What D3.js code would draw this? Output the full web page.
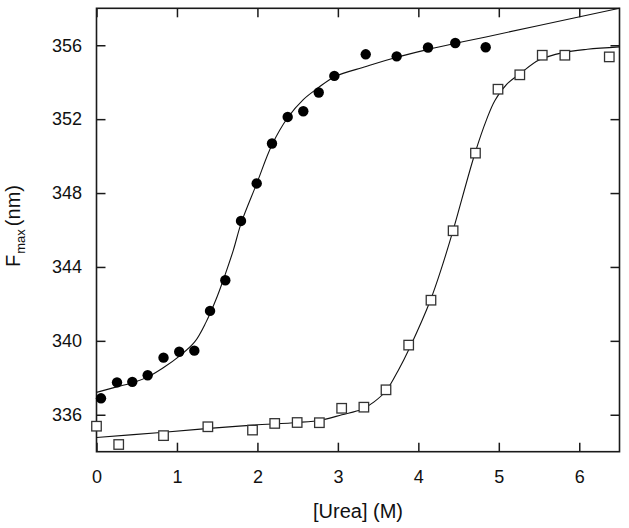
<!DOCTYPE html>
<html>
<head>
<meta charset="utf-8">
<script src="https://cdn.jsdelivr.net/npm/d3@7"></script>
<style>
  html, body { margin: 0; padding: 0; background: #fff; }
  svg { display: block; font-family: "Liberation Sans", Arial, Helvetica, sans-serif; }
</style>
</head>
<body>
<svg id="chart" width="629" height="528"></svg>
<script>
// ---- data ----
const xTicks = [0, 1, 2, 3, 4, 5, 6];
const yTicks = [336, 340, 344, 348, 352, 356];

// filled circles
const circleX = [0.056, 0.255, 0.445, 0.636, 0.833, 1.028, 1.216, 1.411, 1.601, 1.796, 1.991, 2.181, 2.376, 2.570, 2.762, 2.956, 3.346, 3.731, 4.120, 4.459, 4.837];
const circleY = [336.89, 337.75, 337.78, 338.14, 339.09, 339.41, 339.47, 341.62, 343.28, 346.49, 348.52, 350.68, 352.12, 352.43, 353.44, 354.34, 355.51, 355.40, 355.88, 356.12, 355.89];

// open squares
const squareX = [0.0, 0.276, 0.833, 1.384, 1.939, 2.215, 2.494, 2.770, 3.047, 3.323, 3.598, 3.880, 4.157, 4.432, 4.710, 4.990, 5.261, 5.540, 5.821, 6.373];
const squareY = [335.38, 334.39, 334.87, 335.35, 335.17, 335.53, 335.58, 335.57, 336.35, 336.41, 337.35, 339.77, 342.20, 345.96, 350.16, 353.62, 354.40, 355.46, 355.46, 355.37];

// fitted curve through circles
const fit1X = [0, 0.25, 0.45, 0.64, 0.83, 1.03, 1.22, 1.36, 1.5, 1.6, 1.7, 1.8, 1.99, 2.18, 2.38, 2.57, 2.76, 2.96, 3.35, 3.73, 4.12, 4.46, 4.84, 5.5, 6.5];
const fit1Y = [337.21, 337.51, 337.73, 338.05, 338.54, 339.17, 339.94, 341.0, 342.4, 343.6, 344.9, 346.4, 348.5, 350.6, 352.1, 353.06, 353.71, 354.3, 354.85, 355.35, 355.77, 356.1, 356.45, 357.07, 358.0];

// fitted curve through squares
const fit2X = [0, 0.8, 1.4, 1.95, 2.5, 2.8, 3.05, 3.3, 3.45, 3.6, 3.75, 3.9, 4.15, 4.3, 4.43, 4.7, 4.85, 4.95, 5.1, 5.26, 5.5, 5.8, 6.1, 6.5];
const fit2Y = [334.77, 335.04, 335.26, 335.44, 335.58, 335.72, 336.0, 336.3, 336.7, 337.3, 338.4, 339.7, 342.2, 344.1, 345.95, 350.1, 352.0, 353.0, 353.9, 354.45, 355.2, 355.6, 355.78, 355.91];

// ---- drawing ----
const svg = d3.select("#chart");
const pLeft = 96.5, pRight = 619.5, pTop = 8.3, pBottom = 451.7;
const x = d3.scaleLinear().domain([0, 6.5]).range([pLeft, pRight]);
const y = d3.scaleLinear().domain([334, 358]).range([pBottom, pTop]);
const ink = "#1a1a1a";
const tickLen = 9;

function styleAxis(g) {
  g.select(".domain").remove();
  g.selectAll(".tick line").attr("stroke", ink).attr("stroke-width", 1.5);
  g.selectAll(".tick text").attr("fill", "#111").attr("font-size", 18)
    .attr("font-family", "'Liberation Sans', Arial, sans-serif");
}

svg.append("g").attr("transform", `translate(0,${pBottom})`)
  .call(d3.axisBottom(x).tickValues(xTicks).tickFormat(d3.format("d")).tickSize(-tickLen).tickPadding(18.5))
  .call(styleAxis);
svg.append("g").attr("transform", `translate(0,${pTop})`)
  .call(d3.axisTop(x).tickValues(xTicks).tickFormat("").tickSize(-tickLen))
  .call(styleAxis);
svg.append("g").attr("transform", `translate(${pLeft},0)`)
  .call(d3.axisLeft(y).tickValues(yTicks).tickFormat(d3.format("d")).tickSize(-tickLen).tickPadding(14.5))
  .call(styleAxis);
svg.append("g").attr("transform", `translate(${pRight},0)`)
  .call(d3.axisRight(y).tickValues(yTicks).tickFormat("").tickSize(-tickLen))
  .call(styleAxis);

// frame
svg.append("rect")
  .attr("x", pLeft).attr("y", pTop)
  .attr("width", pRight - pLeft).attr("height", pBottom - pTop)
  .attr("fill", "none").attr("stroke", ink).attr("stroke-width", 1.6);

// fitted lines
const line = d3.line().x(d => x(d[0])).y(d => y(d[1])).curve(d3.curveCatmullRom.alpha(0.5));
svg.append("path").datum(d3.zip(fit1X, fit1Y))
  .attr("d", line).attr("fill", "none").attr("stroke", "#111").attr("stroke-width", 1.1);
svg.append("path").datum(d3.zip(fit2X, fit2Y))
  .attr("d", line).attr("fill", "none").attr("stroke", "#111").attr("stroke-width", 1.1);

// squares
const sq = 9.5;
svg.append("g").selectAll("rect").data(d3.zip(squareX, squareY)).join("rect")
  .attr("x", d => x(d[0]) - sq / 2).attr("y", d => y(d[1]) - sq / 2)
  .attr("width", sq).attr("height", sq)
  .attr("fill", "#fff").attr("stroke", "#333").attr("stroke-width", 1.3);

// circles
svg.append("g").selectAll("circle").data(d3.zip(circleX, circleY)).join("circle")
  .attr("cx", d => x(d[0])).attr("cy", d => y(d[1])).attr("r", 5.2)
  .attr("fill", "#000");

// axis titles
svg.append("text")
  .attr("x", (pLeft + pRight) / 2).attr("y", 518)
  .attr("text-anchor", "middle").attr("font-size", 20).attr("fill", "#111")
  .text("[Urea] (M)");

const yt = svg.append("text")
  .attr("transform", "translate(20,226) rotate(-90)")
  .attr("text-anchor", "middle").attr("font-size", 20).attr("fill", "#111");
yt.append("tspan").text("F");
yt.append("tspan").attr("font-size", 13).attr("dy", 5).attr("dx", 1).text("max");
yt.append("tspan").attr("dy", -5).attr("dx", 3).text("(nm)");
</script>
</body>
</html>
